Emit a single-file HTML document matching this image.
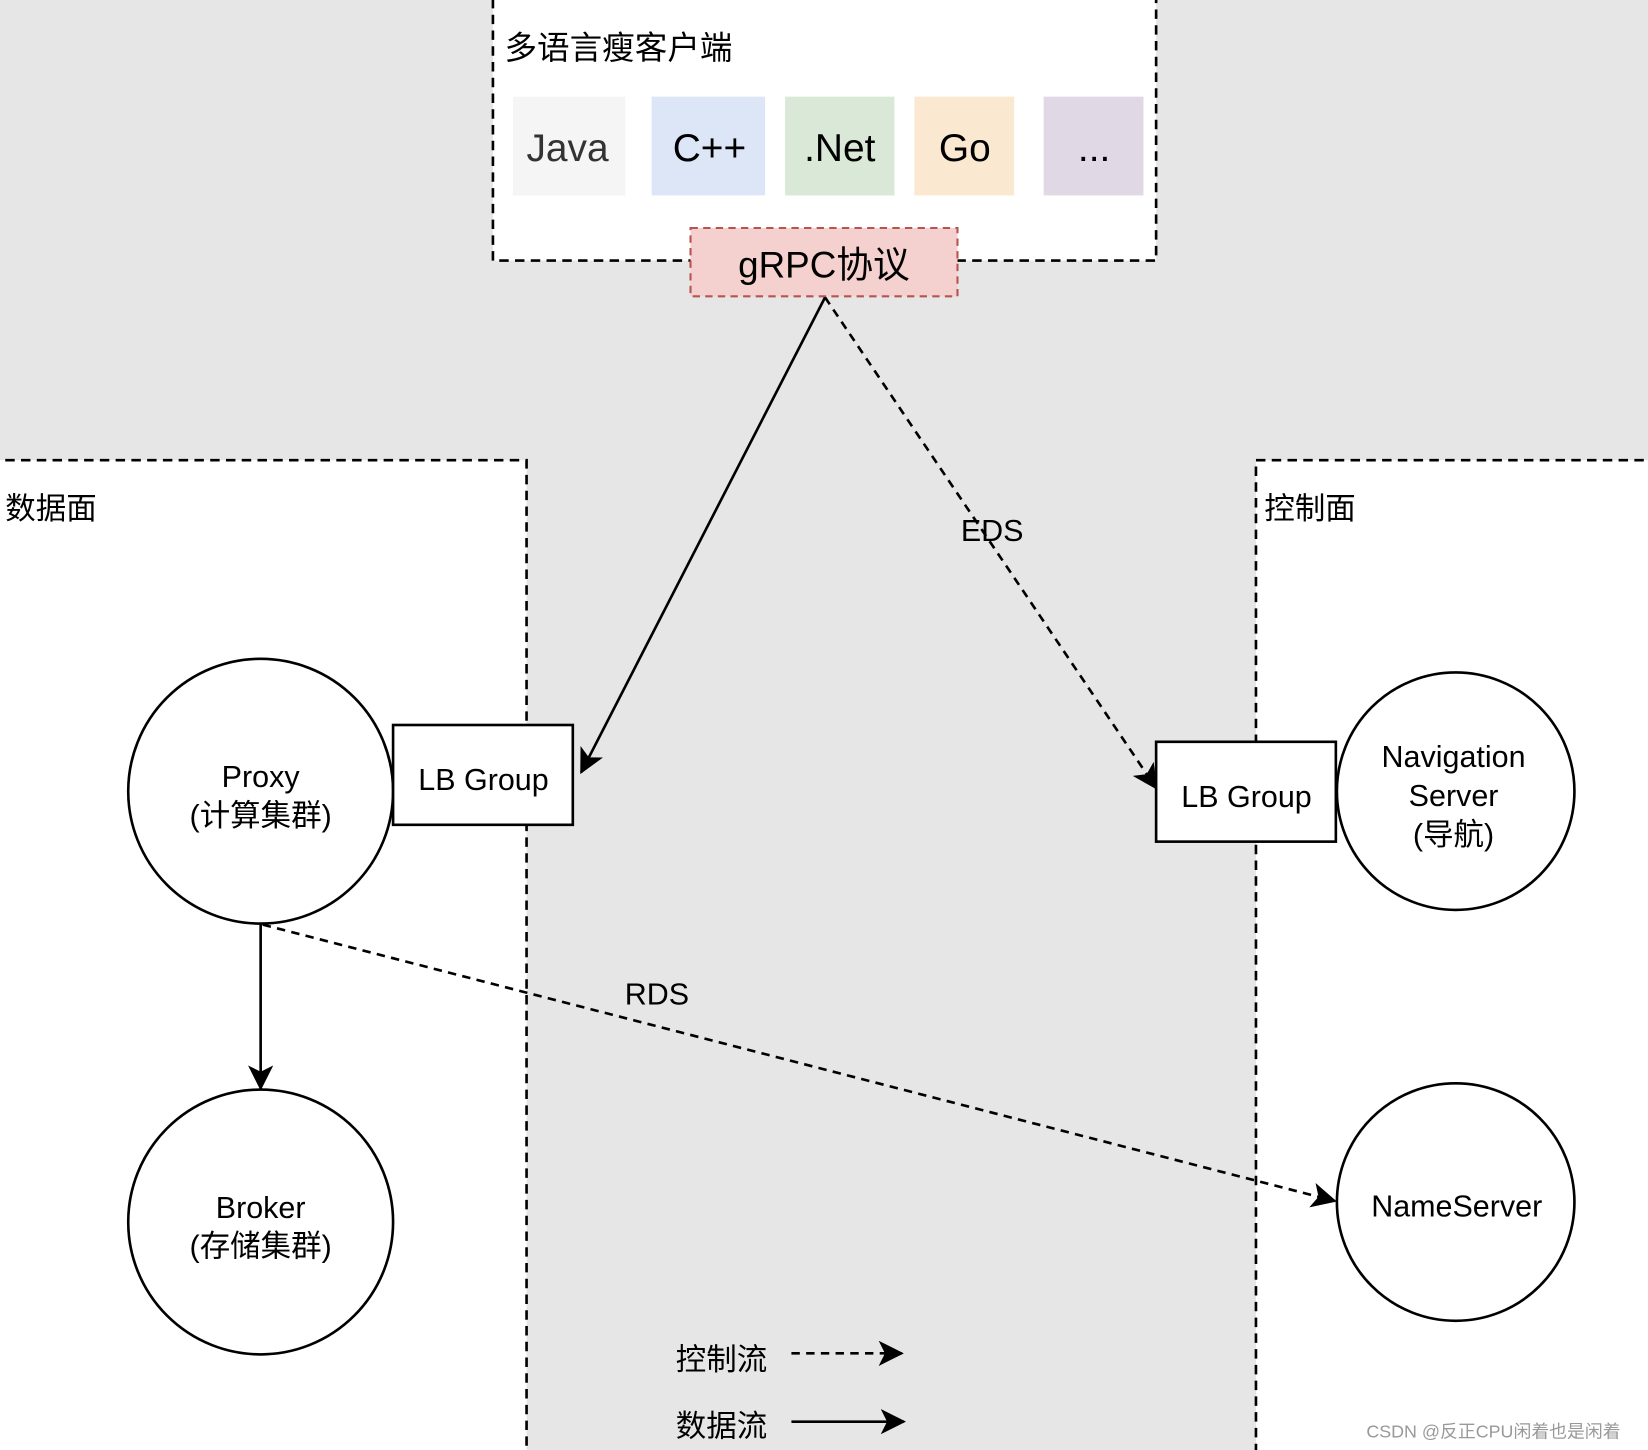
<!DOCTYPE html>
<html><head><meta charset="utf-8"><style>html,body{margin:0;padding:0;background:#e6e6e6}svg{display:block}</style></head>
<body>
<svg width="1648" height="1450" viewBox="0 0 1568 1380" preserveAspectRatio="none" xmlns="http://www.w3.org/2000/svg" font-family="'Liberation Sans','Noto Sans CJK SC',sans-serif">
<defs>
<marker id="ah" markerWidth="12" markerHeight="12" refX="10" refY="6" orient="auto" markerUnits="userSpaceOnUse" viewBox="0 0 12 12">
<path d="M0,0 L12,6 L0,12 L3,6 Z" fill="#000"/></marker>
<marker id="ahb" markerWidth="26" markerHeight="26" refX="22" refY="13" orient="auto" markerUnits="userSpaceOnUse" viewBox="0 0 26 26">
<path d="M0,1 L24,13 L0,25 L6,13 Z" fill="#000"/></marker>
</defs>
<rect width="1568" height="1380" fill="#e6e6e6"/>
<!-- top box -->
<rect x="469" y="-5" width="631" height="253" fill="#fff" stroke="#000" stroke-width="2.5" stroke-dasharray="9 6"/>
<text x="480" y="56" font-size="31">多语言瘦客户端</text>
<rect x="488" y="92" width="107" height="94" fill="#f5f5f5"/>
<rect x="620" y="92" width="108" height="94" fill="#dde6f7"/>
<rect x="747" y="92" width="104" height="94" fill="#d9e8d7"/>
<rect x="870" y="92" width="95" height="94" fill="#fbe8d0"/>
<rect x="993" y="92" width="95" height="94" fill="#e1d8e6"/>
<g font-size="37" text-anchor="middle">
<text x="540" y="153" fill="#333">Java</text>
<text x="675" y="153">C++</text>
<text x="799" y="153">.Net</text>
<text x="918" y="153">Go</text>
<text x="1041" y="153">...</text>
</g>
<rect x="657" y="217" width="254" height="65" fill="#f4d0ce" stroke="#b85450" stroke-width="2" stroke-dasharray="7 5"/>
<text x="784" y="264" font-size="35" text-anchor="middle">gRPC协议</text>
<!-- panels -->
<rect x="-10" y="438" width="511" height="960" fill="#fff" stroke="#000" stroke-width="2.5" stroke-dasharray="9 6"/>
<rect x="1195" y="438" width="390" height="960" fill="#fff" stroke="#000" stroke-width="2.5" stroke-dasharray="9 6"/>
<text x="5" y="494" font-size="29">数据面</text>
<text x="1203" y="494" font-size="29">控制面</text>
<!-- nodes -->
<circle cx="248" cy="753" r="126" fill="#fff" stroke="#000" stroke-width="2.5"/>
<text x="248" y="749" font-size="29" text-anchor="middle">Proxy</text>
<text x="248" y="786" font-size="29" text-anchor="middle">(计算集群)</text>
<rect x="374" y="690" width="171" height="95" fill="#fff" stroke="#000" stroke-width="2.5"/>
<text x="460" y="752" font-size="29" text-anchor="middle">LB Group</text>
<circle cx="248" cy="1163" r="126" fill="#fff" stroke="#000" stroke-width="2.5"/>
<text x="248" y="1159" font-size="29" text-anchor="middle">Broker</text>
<text x="248" y="1196" font-size="29" text-anchor="middle">(存储集群)</text>
<rect x="1100" y="706" width="171" height="95" fill="#fff" stroke="#000" stroke-width="2.5"/>
<text x="1186" y="768" font-size="29" text-anchor="middle">LB Group</text>
<circle cx="1385" cy="753" r="113" fill="#fff" stroke="#000" stroke-width="2.5"/>
<text x="1383" y="730" font-size="29" text-anchor="middle">Navigation</text>
<text x="1383" y="767" font-size="29" text-anchor="middle">Server</text>
<text x="1383" y="804" font-size="29" text-anchor="middle">(导航)</text>
<circle cx="1385" cy="1144" r="113" fill="#fff" stroke="#000" stroke-width="2.5"/>
<text x="1386" y="1158" font-size="29" text-anchor="middle">NameServer</text>
<!-- edges -->
<line x1="785" y1="283" x2="553" y2="735" stroke="#000" stroke-width="2.5" marker-end="url(#ahb)"/>
<line x1="785" y1="283" x2="1100" y2="750" stroke="#000" stroke-width="2.5" stroke-dasharray="8 6" marker-end="url(#ahb)"/>
<text x="944" y="515" font-size="29" text-anchor="middle">EDS</text>
<line x1="248" y1="880" x2="248" y2="1036" stroke="#000" stroke-width="2.5" marker-end="url(#ahb)"/>
<line x1="250" y1="880" x2="1270" y2="1143" stroke="#000" stroke-width="2.5" stroke-dasharray="8 6" marker-end="url(#ahb)"/>
<text x="625" y="956" font-size="29" text-anchor="middle">RDS</text>
<!-- legend -->
<text x="643" y="1304" font-size="29">控制流</text>
<line x1="753" y1="1288" x2="858" y2="1288" stroke="#000" stroke-width="2.5" stroke-dasharray="8 6" marker-end="url(#ahb)"/>
<text x="643" y="1367" font-size="29">数据流</text>
<line x1="753" y1="1353" x2="860" y2="1353" stroke="#000" stroke-width="2.5" marker-end="url(#ahb)"/>
<text x="1300" y="1368" font-size="17" fill="#999">CSDN @反正CPU闲着也是闲着</text>
</svg>
</body></html>
